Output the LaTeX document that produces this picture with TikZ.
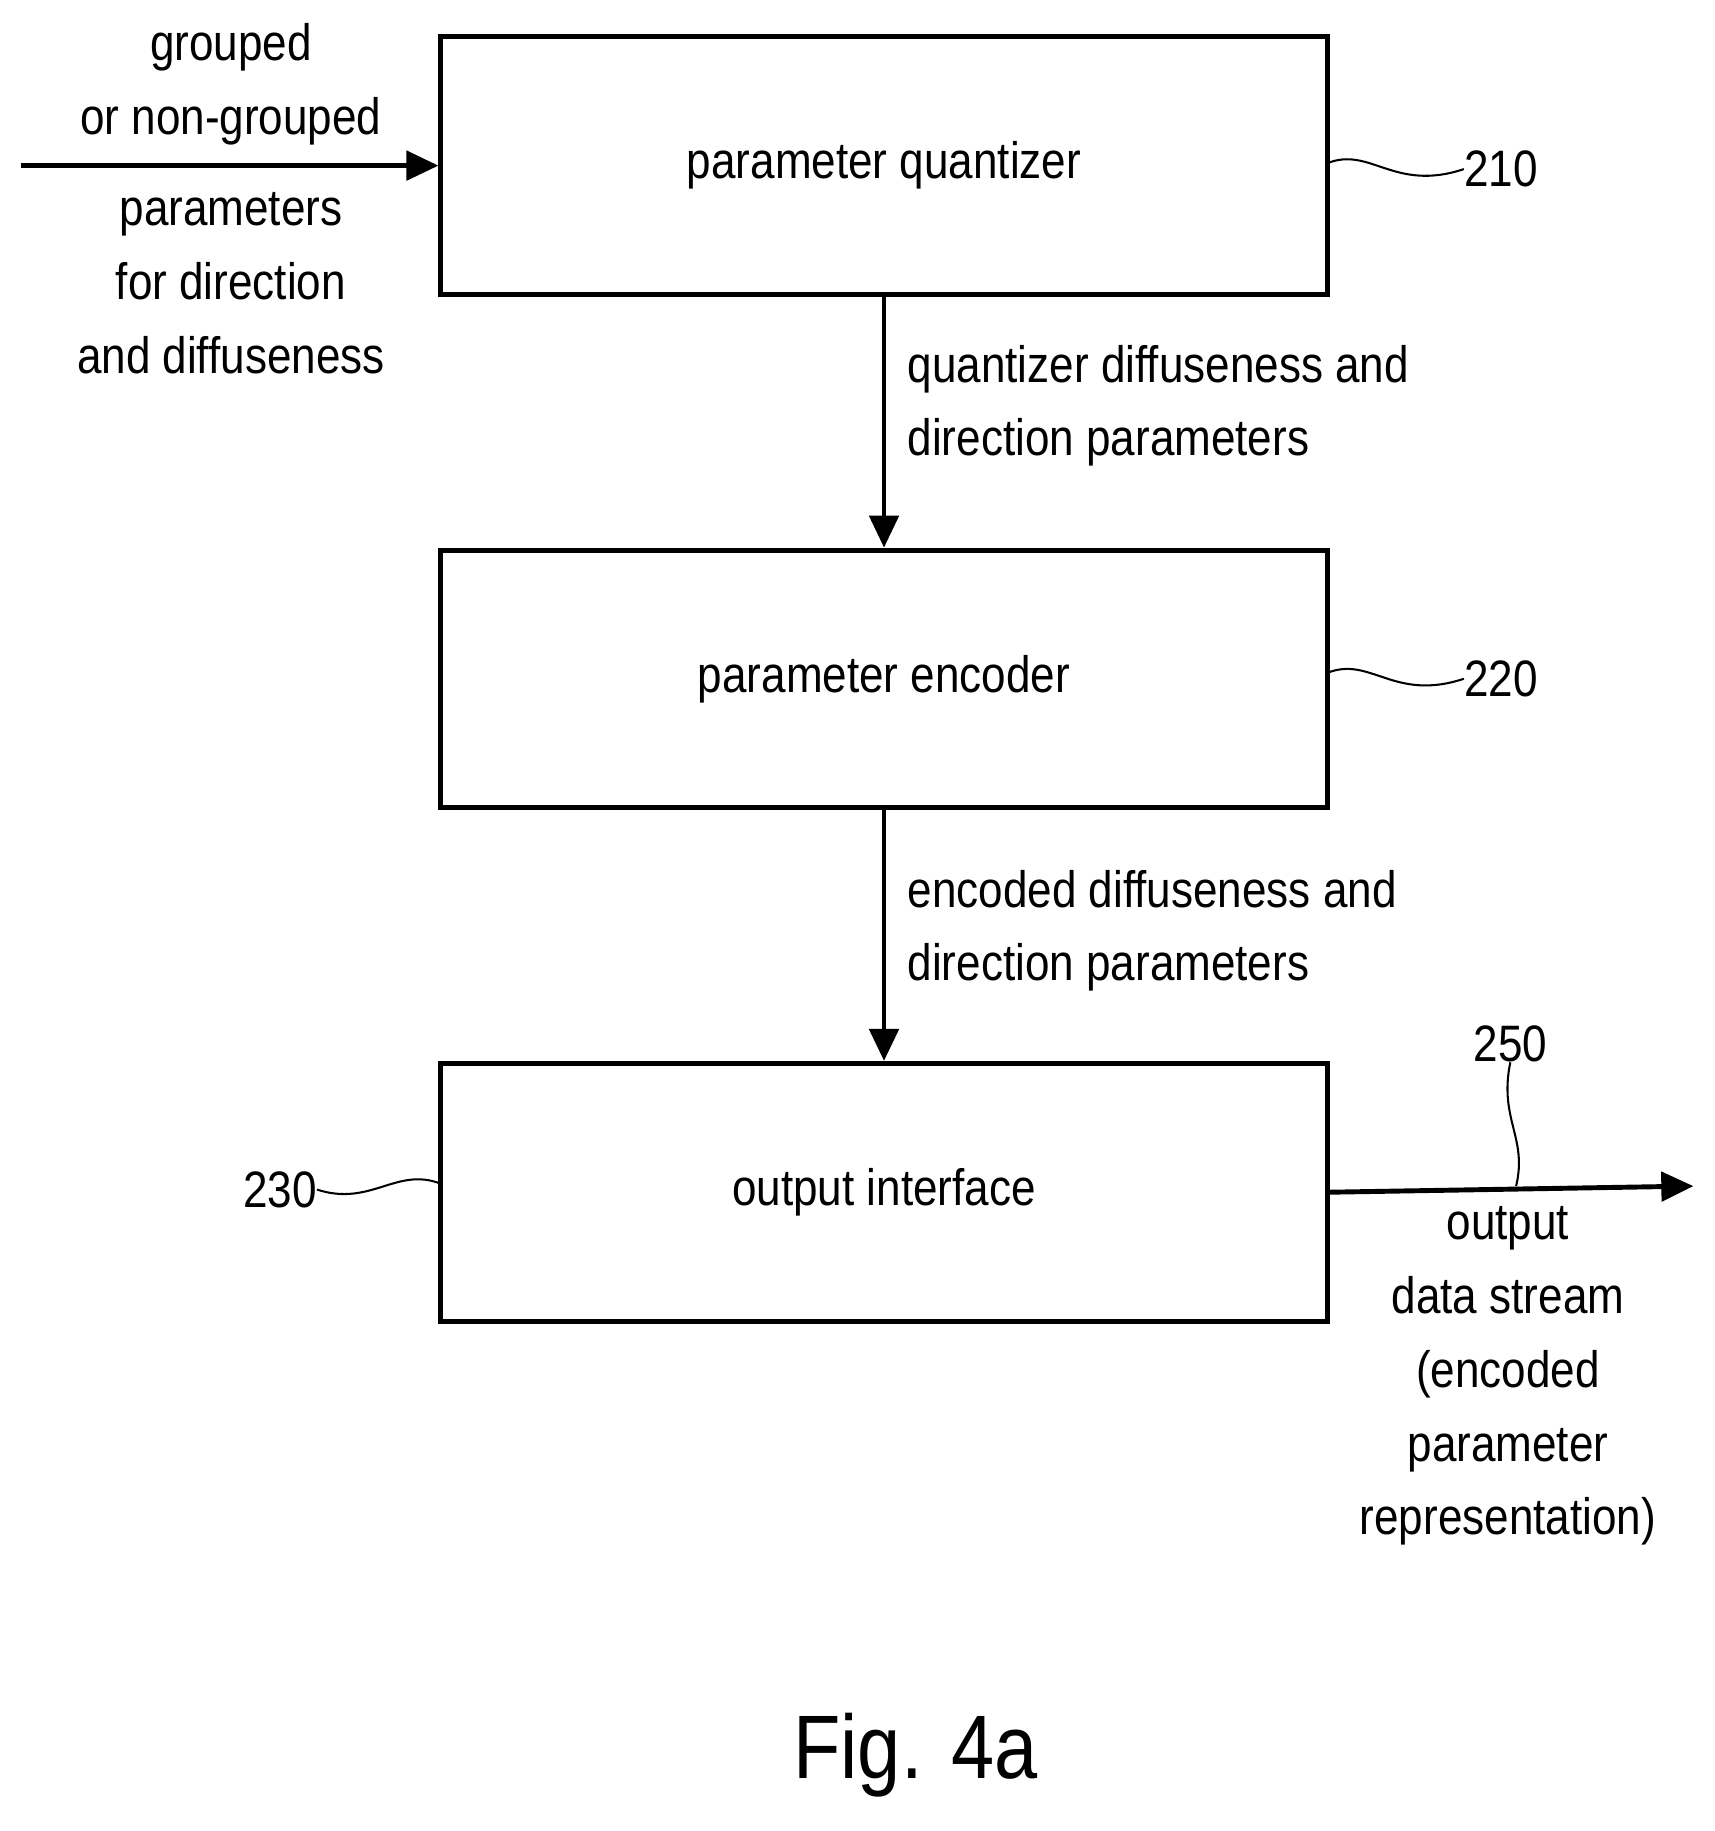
\documentclass[tikz,border=0pt]{standalone}
\usepackage{fontspec}
\setmainfont{Liberation Sans}
\usetikzlibrary{positioning}
\usetikzlibrary{arrows.meta}

\begin{document}
\begin{tikzpicture}[x=0.02cm,y=-0.02cm,
  block/.style={draw, line width=2.4pt, minimum width=15.2cm, minimum height=4.42cm, font=\fontsize{25}{30}\selectfont},
  flow/.style={line width=2.4pt, -{Triangle[length=0.55cm,width=0.5cm]}},
  lbl/.style={font=\fontsize{25}{36}\selectfont, xscale=0.86, inner sep=0pt},
  lead/.style={line width=1pt}]

\useasboundingbox (0,0) rectangle (1470,1570);

% blocks
\node[block] (quant) at (758,142) {\scalebox{0.86}[1]{parameter quantizer}};
\node[block, below=4.3cm of quant] (enc) {\scalebox{0.86}[1]{parameter encoder}};
\node[block, below=4.3cm of enc] (out) {\scalebox{0.86}[1]{output interface}};

% connectors
\coordinate (in) at (18,142);
\coordinate (sink) at (1452,1017);
\draw[flow] (in) -- (quant.west);
\draw[flow] (quant.south) -- (enc.north);
\draw[flow] (enc.south) -- (out.north);
\draw[flow] (out.east) -- (sink);

% texts
\node[lbl, align=center] (inA) at (198,72) {grouped\\or non-grouped};
\node[lbl, align=center] (inB) at (198,243) {parameters\\for direction\\and diffuseness};
\node[lbl, align=left, anchor=west] (qd) at (778,348) {quantizer diffuseness and\\direction parameters};
\node[lbl, align=left, anchor=west] (ed) at (778,798) {encoded diffuseness and\\direction parameters};
\node[lbl, align=center] (ods) at (1293,1180) {output\\data stream\\(encoded\\parameter\\representation)};

% reference numerals
\node[lbl] (n210) at (1287,145) {210};
\node[lbl] (n220) at (1287,582) {220};
\node[lbl] (n230) at (240,1020) {230};
\node[lbl] (n250) at (1295,895) {250};
\draw[lead] (1138,140) .. controls (1175,125) and (1195,165) .. (n210.west);
\draw[lead] (1138,577) .. controls (1175,562) and (1195,602) .. (n220.west);
\draw[lead] (n230.east) .. controls (318,1035) and (340,1000) .. (378,1015);
\draw[lead] (n250.south) .. controls (1285,960) and (1310,975) .. (1300,1017);

\node[font=\fontsize{44}{50}\selectfont, xscale=0.86] (fig) at (785,1505) {Fig. 4a};
\end{tikzpicture}
\end{document}
